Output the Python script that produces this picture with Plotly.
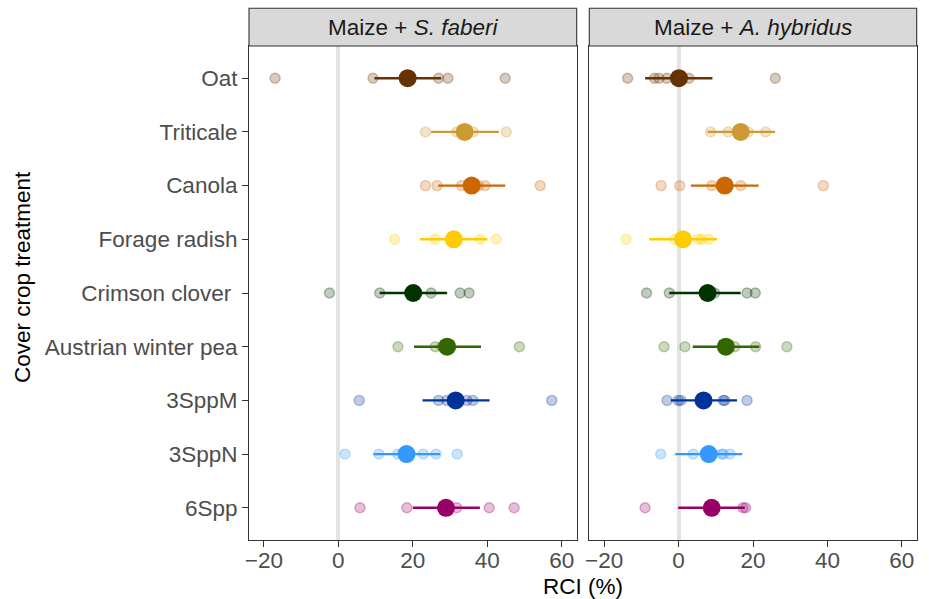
import plotly.graph_objects as go

# ---------------- data ----------------
treatments = ["Oat", "Triticale", "Canola", "Forage radish", "Crimson clover ",
              "Austrian winter pea", "3SppM", "3SppN", "6Spp"]
colors = ["#663300", "#CC9933", "#CC6600", "#FFCC00", "#003300",
          "#336600", "#003399", "#3399FF", "#990066"]

panel_titles = ["Maize + <i>S. faberi</i>", "Maize + <i>A. hybridus</i>"]

# individual replicate RCI values (%), Maize + S. faberi
faberi_reps = [
    [-17.0, 9.3, 26.9, 29.4, 44.8],
    [23.4, 31.8, 36.2, 45.1],
    [23.4, 26.5, 33.1, 37.6, 39.4, 54.2],
    [15.1, 26.0, 38.1, 42.4],
    [-2.4, 11.1, 24.9, 32.7, 35.1],
    [16.0, 26.0, 27.8, 48.6],
    [5.6, 26.9, 29.1, 34.5, 36.1, 57.3],
    [1.8, 10.9, 15.9, 22.8, 26.2, 31.9],
    [5.8, 18.4, 31.8, 40.5, 47.2],
]
faberi_mean = [18.6, 33.9, 35.8, 31.0, 20.1, 29.2, 31.5, 18.3, 28.9]
faberi_lo = [9.7, 24.9, 26.8, 21.9, 11.1, 20.3, 22.6, 9.4, 20.0]
faberi_hi = [27.6, 43.1, 44.8, 40.0, 29.2, 38.3, 40.6, 27.3, 38.0]

# individual replicate RCI values (%), Maize + A. hybridus
hybridus_reps = [
    [-13.7, -6.5, -5.3, -3.2, 2.8, 26.0],
    [8.6, 13.3, 18.7, 23.4],
    [-4.7, 0.3, 8.9, 16.7, 38.9],
    [-14.1, -1.0, 5.3, 6.2, 8.1],
    [-8.6, -2.5, 9.7, 18.4, 20.6],
    [-3.9, 1.7, 15.1, 20.7, 29.1],
    [-3.1, -0.1, 0.6, 12.0, 12.4, 18.4],
    [-4.8, 3.9, 11.5, 12.0, 13.8],
    [-9.0, 17.3, 18.0],
]
hybridus_mean = [0.1, 16.7, 12.4, 1.2, 7.8, 12.7, 6.7, 8.1, 8.9]
hybridus_lo = [-9.0, 7.8, 3.3, -7.9, -2.5, 3.8, -2.1, -0.9, -0.1]
hybridus_hi = [9.1, 25.9, 21.5, 10.3, 16.7, 21.7, 15.7, 17.1, 17.8]

x_ticks = [-20, 0, 20, 40, 60]
x_title = "RCI (%)"
y_title = "Cover crop treatment"

# ---------------- figure ----------------
W, H = 929, 599
FONT = "Liberation Sans, Arial, sans-serif"
FS = 22.5


def rgba(hex_color, a):
    h = hex_color.lstrip("#")
    r, g, b = int(h[0:2], 16), int(h[2:4], 16), int(h[4:6], 16)
    return f"rgba({r},{g},{b},{a})"


fig = go.Figure()

panels = [
    (faberi_reps, faberi_mean, faberi_lo, faberi_hi, "x", "y"),
    (hybridus_reps, hybridus_mean, hybridus_lo, hybridus_hi, "x2", "y2"),
]

for reps, mean, lo, hi, xa, ya in panels:
    # replicate points (faded)
    for t, c, vals in zip(treatments, colors, reps):
        fig.add_trace(go.Scatter(
            x=vals, y=[t] * len(vals), mode="markers", xaxis=xa, yaxis=ya,
            marker=dict(size=10, color=rgba(c, 0.25),
                        line=dict(color=rgba(c, 0.3), width=1.4)),
            showlegend=False, hoverinfo="x+y"))
    # means with error bars
    for t, c, m, l, h in zip(treatments, colors, mean, lo, hi):
        fig.add_trace(go.Scatter(
            x=[m], y=[t], mode="markers", xaxis=xa, yaxis=ya,
            marker=dict(size=18, color=c, line=dict(width=0)),
            error_x=dict(type="data", symmetric=False, array=[h - m],
                         arrayminus=[m - l], color=c, thickness=2.4, width=0),
            showlegend=False, hoverinfo="x+y"))

L_dom = [249 / W, 576.7 / W]
R_dom = [589.3 / W, 916.7 / W]
Y_dom = [1 - 540 / H, 1 - 46 / H]

ticktext = [t.replace(" ", "\u00a0") if t.endswith(" ") else t for t in treatments]

xcommon = dict(range=[-24, 64], tickmode="array", tickvals=x_ticks,
               ticktext=[("\u2212" + str(abs(v))) if v < 0 else str(v) for v in x_ticks],
               showgrid=False, zeroline=True, zerolinecolor="#e3e3e3", zerolinewidth=4,
               showline=True, mirror=True, linecolor="#333333", linewidth=1.1,
               ticks="outside", ticklen=6, tickwidth=1.1, tickcolor="#333333",
               ticklabelstandoff=-6,
               tickfont=dict(family=FONT, size=FS, color="#4d4d4d"), fixedrange=True)
ycommon = dict(type="category", categoryorder="array",
               categoryarray=treatments[::-1], range=[-0.6, 8.6],
               showgrid=False, zeroline=False, showline=True, mirror=True,
               linecolor="#333333", linewidth=1.1, fixedrange=True)

fig.update_layout(
    width=W, height=H,
    margin=dict(l=0, r=0, t=0, b=0, autoexpand=False),
    paper_bgcolor="white", plot_bgcolor="white",
    font=dict(family=FONT, size=FS, color="#1a1a1a"),
    xaxis=dict(domain=L_dom, anchor="y", **xcommon),
    xaxis2=dict(domain=R_dom, anchor="y2", **xcommon),
    yaxis=dict(domain=Y_dom, anchor="x", tickmode="array", tickvals=treatments,
               ticktext=ticktext, ticks="outside", ticklen=6, tickwidth=1.1,
               tickcolor="#333333",
               tickfont=dict(family=FONT, size=FS, color="#4d4d4d"), **ycommon),
    yaxis2=dict(domain=Y_dom, anchor="x2", showticklabels=False, ticks="", **ycommon),
    showlegend=False,
)

# facet strips
strip_y0, strip_y1 = 1 - 46 / H, 1 - 8.3 / H
for dom, title in zip([L_dom, R_dom], panel_titles):
    fig.add_shape(type="rect", xref="paper", yref="paper",
                  x0=dom[0], x1=dom[1], y0=strip_y0, y1=strip_y1,
                  fillcolor="#d9d9d9", line=dict(color="#333333", width=1.1),
                  layer="above")
    fig.add_annotation(x=(dom[0] + dom[1]) / 2, y=(strip_y0 + strip_y1) / 2,
                       xref="paper", yref="paper", text=title, showarrow=False,
                       xanchor="center", yanchor="middle",
                       font=dict(family=FONT, size=FS, color="#1a1a1a"))

# axis titles
fig.add_annotation(x=(L_dom[0] + R_dom[1]) / 2, y=1 - 586 / H, xref="paper", yref="paper",
                   text=x_title, showarrow=False, xanchor="center", yanchor="middle",
                   font=dict(family=FONT, size=FS, color="black"))
fig.add_annotation(x=23 / W, y=1 - 277 / H, xref="paper", yref="paper",
                   text=y_title, showarrow=False, textangle=-90,
                   xanchor="center", yanchor="middle",
                   font=dict(family=FONT, size=FS, color="black"))

fig.write_html(
    "out.html",
    config={"displayModeBar": False},
    post_script="document.body.style.margin='0';document.body.style.overflow='hidden';",
)
